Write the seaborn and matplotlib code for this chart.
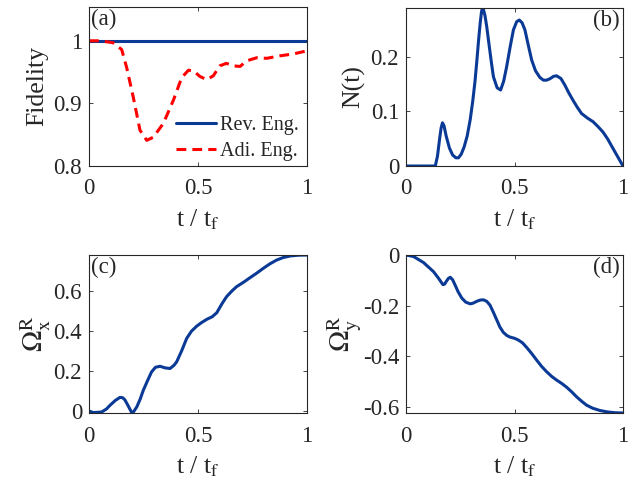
import numpy as np
import pandas as pd
import matplotlib
matplotlib.use("Agg")
import matplotlib.pyplot as plt
import seaborn as sns

# ---- data ----
t_rev = [0.0, 1.0]
fid_rev = [1.0, 1.0]

t_adi = [0.0, 0.05, 0.11, 0.15, 0.173, 0.203, 0.234, 0.265, 0.295, 0.341, 0.387,
         0.425, 0.456, 0.479, 0.509, 0.54, 0.57, 0.60, 0.63, 0.662, 0.693, 0.723,
         0.77, 0.815, 0.876, 0.937, 1.0]
fid_adi = [1.0, 1.0, 0.997, 0.986, 0.957, 0.91, 0.857, 0.841, 0.846, 0.868, 0.905,
           0.941, 0.953, 0.952, 0.943, 0.938, 0.944, 0.96, 0.964, 0.96, 0.959, 0.968,
           0.973, 0.972, 0.976, 0.979, 0.984]

t_n = [0.0, 0.10, 0.135, 0.145, 0.155, 0.162, 0.168, 0.175, 0.185, 0.2, 0.215, 0.23,
       0.242, 0.255, 0.268, 0.282, 0.296, 0.308, 0.318, 0.326, 0.334, 0.342, 0.348,
       0.352, 0.357, 0.364, 0.372, 0.385, 0.395, 0.403, 0.42, 0.436, 0.45, 0.464,
       0.48, 0.495, 0.51, 0.522, 0.535, 0.548, 0.563, 0.579, 0.597, 0.617, 0.633,
       0.648, 0.665, 0.68, 0.694, 0.714, 0.732, 0.75, 0.77, 0.79, 0.809, 0.835,
       0.862, 0.885, 0.908, 0.93, 0.954, 0.977, 1.0]
n_t = [0.0, 0.0, 0.0, 0.018, 0.05, 0.07, 0.079, 0.074, 0.055, 0.033, 0.02, 0.015,
       0.015, 0.022, 0.035, 0.055, 0.085, 0.12, 0.155, 0.19, 0.228, 0.262, 0.282,
       0.289, 0.286, 0.275, 0.255, 0.215, 0.185, 0.163, 0.143, 0.139, 0.155, 0.182,
       0.218, 0.249, 0.264, 0.267, 0.262, 0.249, 0.222, 0.194, 0.174, 0.162, 0.157,
       0.157, 0.16, 0.164, 0.165, 0.16, 0.148, 0.134, 0.12, 0.107, 0.096, 0.088,
       0.081, 0.072, 0.062, 0.049, 0.032, 0.016, 0.0]

t_ox = [0.0, 0.02, 0.058, 0.08, 0.096, 0.12, 0.142, 0.155, 0.165, 0.18, 0.196, 0.205,
        0.219, 0.235, 0.249, 0.27, 0.287, 0.305, 0.326, 0.349, 0.372, 0.39, 0.402,
        0.425, 0.448, 0.47, 0.494, 0.515, 0.54, 0.565, 0.586, 0.61, 0.631, 0.655,
        0.677, 0.71, 0.739, 0.77, 0.8, 0.83, 0.861, 0.89, 0.922, 0.96, 1.0]
omega_x = [0.0, -0.008, -0.005, 0.01, 0.028, 0.052, 0.068, 0.066, 0.055, 0.025, -0.008,
           -0.003, 0.02, 0.06, 0.103, 0.155, 0.195, 0.218, 0.223, 0.215, 0.212, 0.228,
           0.245, 0.3, 0.362, 0.398, 0.423, 0.44, 0.457, 0.47, 0.49, 0.535, 0.57, 0.598,
           0.62, 0.643, 0.665, 0.688, 0.712, 0.734, 0.753, 0.765, 0.773, 0.777, 0.778]

t_oy = [0.0, 0.035, 0.081, 0.127, 0.15, 0.17, 0.178, 0.185, 0.196, 0.204, 0.215,
        0.227, 0.24, 0.257, 0.275, 0.296, 0.31, 0.326, 0.342, 0.357, 0.372, 0.387,
        0.402, 0.418, 0.433, 0.449, 0.465, 0.479, 0.5, 0.518, 0.537, 0.556, 0.58,
        0.602, 0.625, 0.648, 0.672, 0.694, 0.717, 0.74, 0.763, 0.786, 0.81, 0.832,
        0.86, 0.893, 0.93, 0.965, 1.0]
omega_y = [0.0, -0.006, -0.03, -0.066, -0.092, -0.117, -0.115, -0.105, -0.092, -0.088,
           -0.098, -0.12, -0.145, -0.17, -0.186, -0.193, -0.19, -0.183, -0.178, -0.177,
           -0.183, -0.198, -0.225, -0.256, -0.285, -0.306, -0.318, -0.324, -0.329,
           -0.336, -0.347, -0.365, -0.39, -0.415, -0.44, -0.461, -0.48, -0.494, -0.507,
           -0.522, -0.54, -0.56, -0.578, -0.593, -0.605, -0.614, -0.62, -0.623, -0.624]

x_ticks = [0, 0.5, 1]
x_ticklabels = ["0", "0.5", "1"]

# ---- styling ----
sns.set_theme(style="ticks")
plt.rcParams["font.family"] = ["Liberation Serif", "DejaVu Serif"]
plt.rcParams["mathtext.fontset"] = "stix"
plt.rcParams["axes.edgecolor"] = "#262626"
plt.rcParams["xtick.color"] = "#262626"
plt.rcParams["ytick.color"] = "#262626"
plt.rcParams["text.color"] = "#262626"
plt.rcParams["axes.labelcolor"] = "#262626"

BLUE = "#0a3a96"
RED = "#ff0000"
TICK_FS = 16.5
LABEL_FS = 18.5

fig = plt.figure(figsize=(6.29, 4.8), dpi=100)
W, H = 629.0, 480.0

def make_ax(l, r, t, b):
    return fig.add_axes([l / W, 1 - b / H, (r - l) / W, (b - t) / H])

ax_a = make_ax(89, 307, 7, 166)
ax_b = make_ax(406, 623, 8, 166)
ax_c = make_ax(89, 307, 255, 413)
ax_d = make_ax(406, 623, 255, 413)

sns.lineplot(x=t_rev, y=fid_rev, ax=ax_a, color=BLUE, lw=2.2, label="Rev. Eng.")
sns.lineplot(x=t_adi, y=fid_adi, ax=ax_a, color=RED, lw=2.2, ls=(0, (3.2, 2.0)),
             label="Adi. Eng.")
sns.lineplot(x=t_n, y=n_t, ax=ax_b, color=BLUE, lw=2.2)
sns.lineplot(x=t_ox, y=omega_x, ax=ax_c, color=BLUE, lw=2.2)
sns.lineplot(x=t_oy, y=omega_y, ax=ax_d, color=BLUE, lw=2.2)

ax_a.set_ylim(0.8, 1.054)
ax_a.set_yticks([0.8, 0.9, 1.0])
ax_a.set_yticklabels(["0.8", "0.9", "1"])
ax_b.set_ylim(0, 0.289)
ax_b.set_yticks([0, 0.1, 0.2])
ax_b.set_yticklabels(["0", "0.1", "0.2"])
ax_c.set_ylim(-0.01, 0.778)
ax_c.set_yticks([0, 0.2, 0.4, 0.6])
ax_c.set_yticklabels(["0", "0.2", "0.4", "0.6"])
ax_d.set_ylim(-0.624, 0.0)
ax_d.set_yticks([-0.6, -0.4, -0.2, 0])
ax_d.set_yticklabels(["-0.6", "-0.4", "-0.2", "0"])

ax_a.set_ylabel("Fidelity", fontsize=LABEL_FS, labelpad=4)
ax_b.set_ylabel("N(t)", fontsize=LABEL_FS, labelpad=4)
ax_c.set_ylabel(r"$\Omega^{\mathrm{R}}_{\mathrm{x}}$", fontsize=LABEL_FS + 2, labelpad=0)
ax_d.set_ylabel(r"$\Omega^{\mathrm{R}}_{\mathrm{y}}$", fontsize=LABEL_FS + 2, labelpad=0)

for ax in (ax_a, ax_b, ax_c, ax_d):
    ax.set_xlim(0, 1)
    ax.set_xticks(x_ticks)
    ax.set_xticklabels(x_ticklabels)
    ax.set_xlabel(r"t / t$_{\mathrm{f}}$", fontsize=LABEL_FS, labelpad=6)
    ax.tick_params(direction="in", length=3, width=0.6, labelsize=TICK_FS,
                   top=True, right=True)
    ax.tick_params(axis="x", pad=9)
    ax.tick_params(axis="y", pad=5)
    for s in ax.spines.values():
        s.set_visible(True)
        s.set_linewidth(0.8)

ax_a.text(0.01, 0.99, "(a)", transform=ax_a.transAxes, ha="left", va="top", fontsize=TICK_FS)
ax_b.text(0.985, 0.99, "(b)", transform=ax_b.transAxes, ha="right", va="top", fontsize=TICK_FS)
ax_c.text(0.01, 0.99, "(c)", transform=ax_c.transAxes, ha="left", va="top", fontsize=TICK_FS)
ax_d.text(0.985, 0.99, "(d)", transform=ax_d.transAxes, ha="right", va="top", fontsize=TICK_FS)

leg = ax_a.legend(loc="lower right", bbox_to_anchor=(1.0, -0.02), frameon=False,
                  fontsize=14.5, handlelength=2.0, handletextpad=0.2,
                  borderaxespad=0.0, labelspacing=0.35)

fig.savefig("out.png", dpi=100)
